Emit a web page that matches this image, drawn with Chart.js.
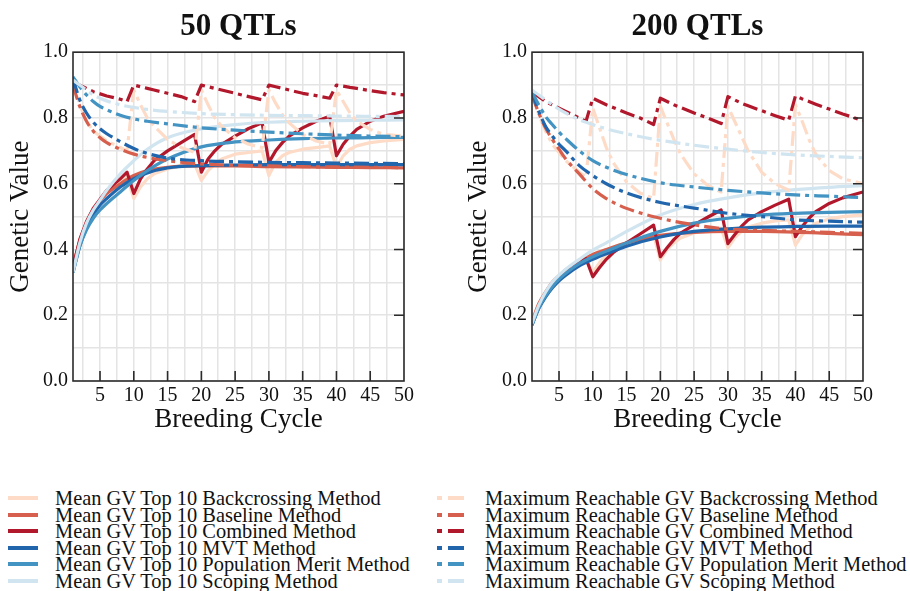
<!DOCTYPE html>
<html>
<head>
<meta charset="utf-8">
<script src="https://cdn.jsdelivr.net/npm/chart.js@4.4.1/dist/chart.umd.min.js"></script>
<style>
  body { margin: 0; width: 910px; height: 591px; overflow: hidden; background: #fff; position: relative; font-family: 'Liberation Serif', serif; }
  .plot { position: absolute; top: 0; width: 455px; height: 445px; }
  .row { position: absolute; height: 20px; font-size: 20.4px; line-height: 20px; color: #111; white-space: nowrap; }
  .sample { position: absolute; top: 8px; height: 4px; }
  .sample span { position: absolute; top: 0; height: 4px; }
</style>
</head>
<body>
<div class="plot" style="left:0"><canvas id="chart50"></canvas></div>
<div class="plot" style="left:455px"><canvas id="chart200"></canvas></div>
<div id="legend"></div>
<script>
// methods in legend order
const METHODS = ['Backcrossing', 'Baseline', 'Combined', 'MVT', 'Population Merit', 'Scoping'];
const COLORS = ['#fddbc7', '#d6604d', '#b2182b', '#2166ac', '#4393c3', '#d1e5f0'];

// breeding cycles where values were read (smooth curves / sawtooth curves)
const CYCLES_SMOOTH = [1, 2, 3, 4, 5, 6, 8, 10, 12, 15, 20, 25, 30, 35, 40, 45, 50];
const CYCLES_SAW = [1, 2, 3, 4, 6, 8, 9, 10, 11, 12, 13, 15, 17, 19, 20, 21, 22, 23, 25, 27, 29, 30, 31, 32, 33, 35, 37, 39, 40, 41, 42, 43, 45, 47, 50];

// ---- 50 QTLs ----
const q50MeanBackcrossing = [0.345, 0.43, 0.485, 0.525, 0.575, 0.605, 0.62, 0.555, 0.59, 0.615, 0.63, 0.645, 0.655, 0.66, 0.61, 0.64, 0.66, 0.675, 0.69, 0.695, 0.70, 0.625, 0.665, 0.685, 0.695, 0.705, 0.71, 0.715, 0.65, 0.685, 0.705, 0.715, 0.725, 0.73, 0.735];
const q50MeanBaseline = [0.35, 0.425, 0.48, 0.52, 0.548, 0.57, 0.60, 0.625, 0.64, 0.65, 0.654, 0.654, 0.652, 0.651, 0.65, 0.649, 0.648];
const q50MeanCombined = [0.345, 0.43, 0.485, 0.525, 0.58, 0.615, 0.635, 0.57, 0.615, 0.645, 0.67, 0.70, 0.725, 0.75, 0.635, 0.675, 0.70, 0.72, 0.745, 0.768, 0.785, 0.665, 0.70, 0.725, 0.745, 0.77, 0.79, 0.805, 0.685, 0.72, 0.745, 0.765, 0.79, 0.805, 0.82];
const q50MeanMVT = [0.33, 0.41, 0.465, 0.505, 0.535, 0.555, 0.59, 0.615, 0.633, 0.648, 0.655, 0.657, 0.658, 0.658, 0.658, 0.658, 0.658];
const q50MeanPopMerit = [0.33, 0.41, 0.46, 0.495, 0.52, 0.54, 0.575, 0.61, 0.64, 0.675, 0.712, 0.727, 0.733, 0.737, 0.739, 0.74, 0.741];
const q50MeanScoping = [0.33, 0.42, 0.48, 0.52, 0.55, 0.58, 0.63, 0.67, 0.705, 0.74, 0.767, 0.78, 0.787, 0.79, 0.792, 0.793, 0.794];

const q50MaxBackcrossing = [0.92, 0.84, 0.79, 0.76, 0.73, 0.71, 0.70, 0.885, 0.84, 0.80, 0.775, 0.735, 0.71, 0.695, 0.885, 0.84, 0.80, 0.775, 0.74, 0.72, 0.71, 0.885, 0.845, 0.81, 0.785, 0.75, 0.73, 0.72, 0.885, 0.85, 0.815, 0.79, 0.765, 0.75, 0.745];
const q50MaxBaseline = [0.90, 0.835, 0.79, 0.76, 0.74, 0.725, 0.705, 0.69, 0.68, 0.67, 0.66, 0.656, 0.654, 0.652, 0.651, 0.65, 0.649];
const q50MaxCombined = [0.91, 0.90, 0.89, 0.88, 0.867, 0.857, 0.85, 0.90, 0.895, 0.89, 0.885, 0.875, 0.865, 0.85, 0.90, 0.895, 0.89, 0.885, 0.875, 0.865, 0.855, 0.90, 0.895, 0.89, 0.885, 0.875, 0.868, 0.86, 0.90, 0.897, 0.893, 0.89, 0.883, 0.877, 0.87];
const q50MaxMVT = [0.92, 0.855, 0.815, 0.787, 0.767, 0.752, 0.728, 0.707, 0.692, 0.678, 0.67, 0.667, 0.665, 0.664, 0.663, 0.662, 0.661];
const q50MaxPopMerit = [0.925, 0.895, 0.87, 0.85, 0.835, 0.825, 0.808, 0.797, 0.79, 0.782, 0.77, 0.763, 0.757, 0.752, 0.748, 0.745, 0.743];
const q50MaxScoping = [0.915, 0.90, 0.885, 0.87, 0.86, 0.852, 0.84, 0.832, 0.826, 0.82, 0.813, 0.81, 0.808, 0.807, 0.806, 0.805, 0.804];

// ---- 200 QTLs ----
const q200MeanBackcrossing = [0.175, 0.225, 0.26, 0.29, 0.33, 0.358, 0.37, 0.33, 0.36, 0.385, 0.40, 0.42, 0.435, 0.445, 0.368, 0.40, 0.42, 0.435, 0.45, 0.46, 0.465, 0.405, 0.435, 0.455, 0.468, 0.48, 0.487, 0.49, 0.413, 0.445, 0.465, 0.48, 0.493, 0.50, 0.505];
const q200MeanBaseline = [0.18, 0.235, 0.27, 0.30, 0.32, 0.338, 0.365, 0.385, 0.40, 0.42, 0.443, 0.452, 0.455, 0.455, 0.453, 0.449, 0.445];
const q200MeanCombined = [0.175, 0.225, 0.26, 0.29, 0.33, 0.36, 0.372, 0.317, 0.345, 0.37, 0.39, 0.42, 0.447, 0.474, 0.378, 0.405, 0.43, 0.45, 0.475, 0.498, 0.52, 0.418, 0.445, 0.47, 0.49, 0.515, 0.535, 0.553, 0.439, 0.47, 0.495, 0.515, 0.54, 0.557, 0.575];
const q200MeanMVT = [0.17, 0.22, 0.255, 0.283, 0.305, 0.322, 0.35, 0.37, 0.387, 0.41, 0.438, 0.455, 0.463, 0.468, 0.47, 0.471, 0.471];
const q200MeanPopMerit = [0.17, 0.222, 0.258, 0.287, 0.31, 0.328, 0.357, 0.378, 0.395, 0.42, 0.455, 0.48, 0.495, 0.505, 0.51, 0.513, 0.515];
const q200MeanScoping = [0.175, 0.23, 0.27, 0.30, 0.322, 0.34, 0.37, 0.398, 0.42, 0.455, 0.505, 0.537, 0.557, 0.572, 0.582, 0.589, 0.594];

const q200MaxBackcrossing = [0.88, 0.81, 0.76, 0.72, 0.67, 0.635, 0.62, 0.83, 0.77, 0.71, 0.665, 0.605, 0.572, 0.555, 0.835, 0.785, 0.735, 0.69, 0.63, 0.595, 0.575, 0.835, 0.79, 0.745, 0.70, 0.635, 0.60, 0.58, 0.84, 0.79, 0.735, 0.69, 0.64, 0.615, 0.60];
const q200MaxBaseline = [0.87, 0.815, 0.77, 0.735, 0.705, 0.675, 0.63, 0.585, 0.555, 0.525, 0.495, 0.475, 0.462, 0.458, 0.455, 0.452, 0.449];
const q200MaxCombined = [0.88, 0.865, 0.85, 0.84, 0.82, 0.80, 0.79, 0.86, 0.85, 0.84, 0.832, 0.815, 0.80, 0.78, 0.86, 0.85, 0.84, 0.832, 0.815, 0.80, 0.783, 0.865, 0.855, 0.845, 0.837, 0.822, 0.807, 0.793, 0.867, 0.858, 0.85, 0.842, 0.827, 0.812, 0.792];
const q200MaxMVT = [0.88, 0.82, 0.775, 0.745, 0.72, 0.70, 0.655, 0.625, 0.60, 0.572, 0.543, 0.526, 0.51, 0.50, 0.49, 0.486, 0.483];
const q200MaxPopMerit = [0.88, 0.84, 0.805, 0.78, 0.757, 0.737, 0.70, 0.67, 0.65, 0.628, 0.603, 0.59, 0.58, 0.572, 0.566, 0.562, 0.558];
const q200MaxScoping = [0.885, 0.87, 0.855, 0.84, 0.827, 0.815, 0.795, 0.78, 0.767, 0.752, 0.732, 0.717, 0.705, 0.695, 0.688, 0.683, 0.679];

const FONT = "'Liberation Serif', serif";
const DASHDOT = [15, 5, 4, 5];
Chart.defaults.font.family = FONT;
Chart.defaults.color = '#111';

// pairs cycles with values, picks the right cycle list by length
function toPoints(vals) {
  var cycles = vals.length === CYCLES_SAW.length ? CYCLES_SAW : CYCLES_SMOOTH;
  return vals.map(function (v, j) { return { x: cycles[j], y: v }; });
}

// sawtooth series get straight segments so the drops stay sharp
function lineStyle(vals) {
  if (vals.length === CYCLES_SAW.length) return { cubicInterpolationMode: 'default', tension: 0 };
  return { cubicInterpolationMode: 'monotone' };
}

// frame round the plot plus inward ticks on bottom and right
const framePlugin = {
  id: 'frame',
  afterDatasetsDraw(chart) {
    var ctx = chart.ctx, a = chart.chartArea;
    var xs = chart.scales.x, ys = chart.scales.y;
    ctx.save();
    ctx.strokeStyle = '#2b2b2b';
    ctx.lineWidth = 1.6;
    ctx.beginPath();
    xs.ticks.forEach(function (t) {
      if (t.value % 5 !== 0 || t.value >= 50) return;
      var px = xs.getPixelForValue(t.value);
      ctx.moveTo(px, a.bottom);
      ctx.lineTo(px, a.bottom - 10);
    });
    ys.ticks.forEach(function (t) {
      var k = Math.round(t.value * 10);
      if (k % 2 !== 0 || k === 0 || k === 10) return;
      var py = ys.getPixelForValue(t.value);
      ctx.moveTo(a.right, py);
      ctx.lineTo(a.right - 10, py);
    });
    ctx.stroke();
    ctx.strokeRect(a.left, a.top, a.right - a.left, a.bottom - a.top);
    ctx.restore();
  }
};

function makeChart(id, title, means, maxes, yWidth, rightPad, yTitlePad) {
  var datasets = [];
  means.forEach(function (vals, i) {
    datasets.push(Object.assign({
      label: 'Mean GV Top 10 ' + METHODS[i] + ' Method',
      data: toPoints(vals),
      borderColor: COLORS[i],
      borderWidth: 3.2,
      order: 12 - i
    }, lineStyle(vals)));
  });
  maxes.forEach(function (vals, i) {
    datasets.push(Object.assign({
      label: 'Maximum Reachable GV ' + METHODS[i] + ' Method',
      data: toPoints(vals),
      borderColor: COLORS[i],
      borderWidth: 3.2,
      borderDash: DASHDOT,
      order: 6 - i
    }, lineStyle(vals)));
  });

  var grid = { color: '#e4e4e4', lineWidth: 1.5, drawTicks: false };

  return new Chart(document.getElementById(id), {
    type: 'line',
    data: { datasets: datasets },
    plugins: [framePlugin],
    options: {
      responsive: true,
      maintainAspectRatio: false,
      animation: false,
      parsing: false,
      elements: {
        point: { radius: 0 },
        line: { borderCapStyle: 'butt', borderJoinStyle: 'round' }
      },
      layout: { padding: { left: 0, right: rightPad, top: 0, bottom: 0 } },
      plugins: {
        legend: { display: false },
        tooltip: { enabled: false },
        title: {
          display: true,
          text: title,
          fullSize: false,
          color: '#111',
          font: { size: 31, weight: 'bold' },
          padding: { top: 8, bottom: 7 }
        }
      },
      scales: {
        x: {
          type: 'linear',
          min: 1,
          max: 50,
          afterBuildTicks: function (s) {
            var t = [];
            for (var v = 2.5; v <= 50; v += 2.5) t.push({ value: v });
            s.ticks = t;
          },
          afterFit: function (s) { s.height = 64; },
          grid: grid,
          border: { display: false },
          ticks: {
            autoSkip: false,
            maxRotation: 0,
            padding: 3,
            color: '#111',
            font: { size: 20 },
            callback: function (v) { return v % 5 === 0 ? String(v) : ''; }
          },
          title: {
            display: true,
            text: 'Breeding Cycle',
            color: '#111',
            font: { size: 27 },
            padding: { top: 0, bottom: 9 }
          }
        },
        y: {
          min: 0,
          max: 1,
          afterFit: function (s) { s.width = yWidth; },
          grid: grid,
          border: { display: false },
          ticks: {
            stepSize: 0.1,
            padding: 5,
            color: '#111',
            font: { size: 20 },
            callback: function (v) { return Math.round(v * 10) % 2 === 0 ? v.toFixed(1) : ''; }
          },
          title: {
            display: true,
            text: 'Genetic Value',
            color: '#111',
            font: { size: 27 },
            padding: { top: yTitlePad, bottom: 0 }
          }
        }
      }
    }
  });
}

makeChart('chart50', '50 QTLs',
  [q50MeanBackcrossing, q50MeanBaseline, q50MeanCombined, q50MeanMVT, q50MeanPopMerit, q50MeanScoping],
  [q50MaxBackcrossing, q50MaxBaseline, q50MaxCombined, q50MaxMVT, q50MaxPopMerit, q50MaxScoping],
  73, 51, 5);
makeChart('chart200', '200 QTLs',
  [q200MeanBackcrossing, q200MeanBaseline, q200MeanCombined, q200MeanMVT, q200MeanPopMerit, q200MeanScoping],
  [q200MaxBackcrossing, q200MaxBaseline, q200MaxCombined, q200MaxMVT, q200MaxPopMerit, q200MaxScoping],
  77, 47, 8);

// legend below the plots: means on the left, maxima on the right
function buildLegend() {
  var box = document.getElementById('legend');
  METHODS.forEach(function (m, i) {
    var top = 488 + i * 16.6;
    var left = document.createElement('div');
    left.className = 'row';
    left.style.left = '0px';
    left.style.top = top + 'px';
    left.innerHTML = '<div class="sample" style="left:8px;width:30px;background:' + COLORS[i] + '"></div>' +
      '<span style="position:absolute;left:55px">Mean GV Top 10 ' + m + ' Method</span>';
    box.appendChild(left);

    var right = document.createElement('div');
    right.className = 'row';
    right.style.left = '0px';
    right.style.top = top + 'px';
    right.innerHTML = '<div class="sample" style="left:437px;width:27px">' +
      '<span style="left:0;width:5px;background:' + COLORS[i] + '"></span>' +
      '<span style="left:11px;width:16px;background:' + COLORS[i] + '"></span></div>' +
      '<span style="position:absolute;left:485px">Maximum Reachable GV ' + m + ' Method</span>';
    box.appendChild(right);
  });
}
buildLegend();
</script>
</body>
</html>
